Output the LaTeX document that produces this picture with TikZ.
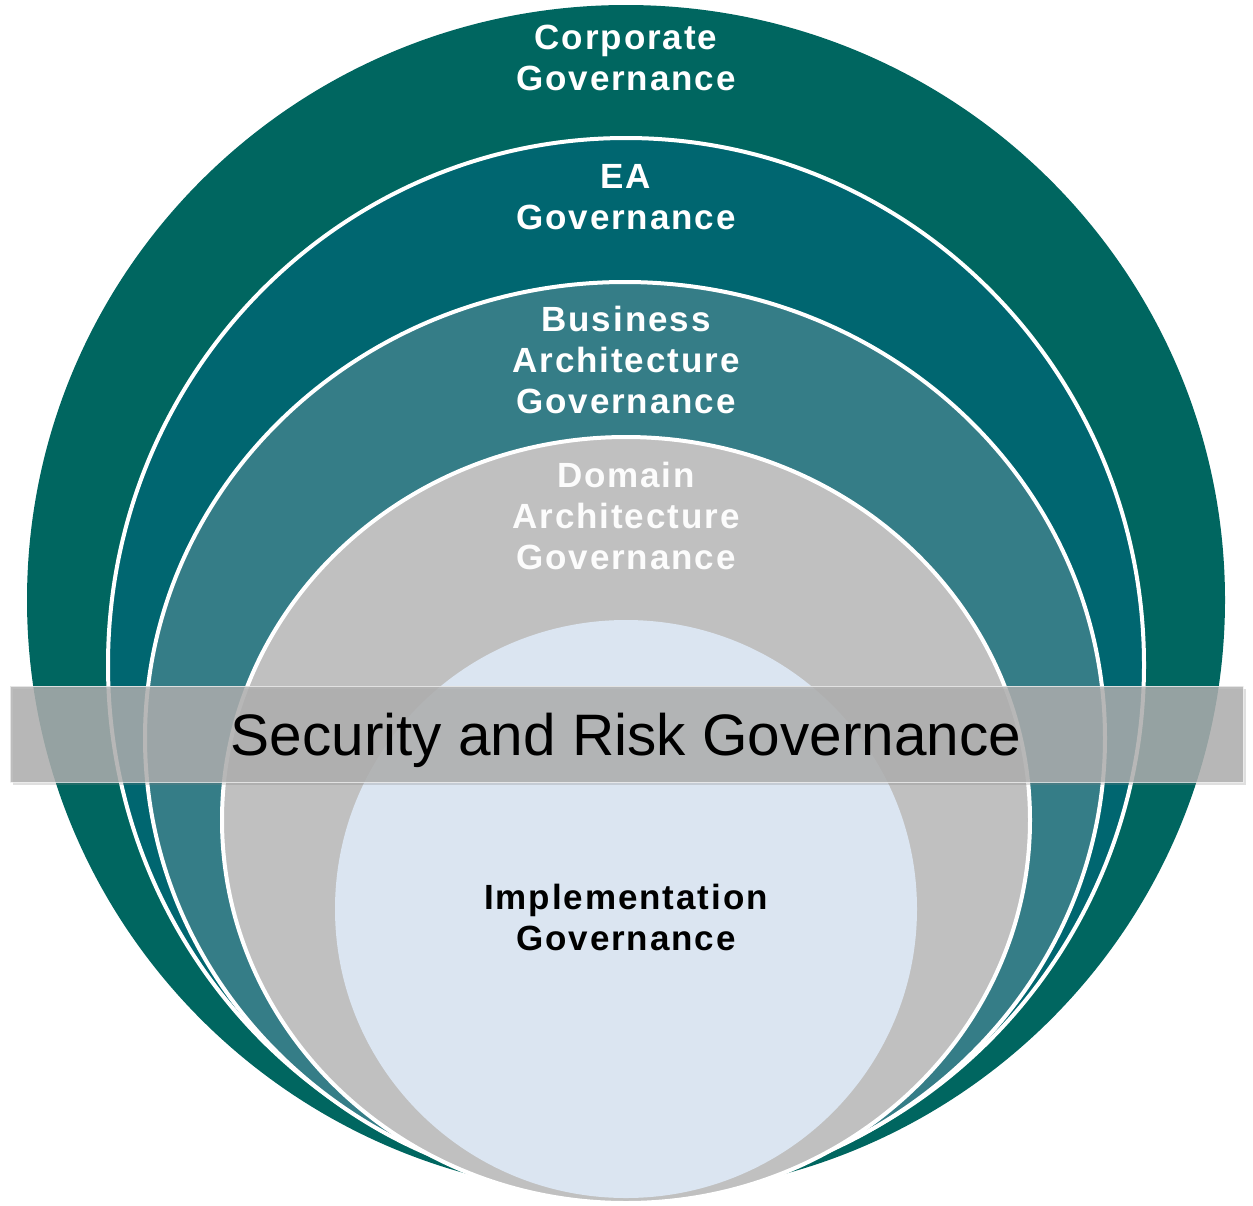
\documentclass[tikz,border=0pt]{standalone}
\usepackage{fontspec}
\setmainfont{Liberation Sans}
\usetikzlibrary{shapes.geometric,shadows}

\definecolor{corpteal}{RGB}{0,102,96}
\definecolor{eateal}{RGB}{0,102,112}
\definecolor{bizteal}{RGB}{53,125,135}
\definecolor{domgray}{RGB}{192,192,192}
\definecolor{implblue}{RGB}{219,229,241}
\definecolor{bandgray}{RGB}{175,175,175}

\begin{document}
\begin{tikzpicture}[x=1pt, y=-1pt,
  ring/.style={ellipse, draw=white, line width=4pt, inner sep=0pt},
  lvl/.style={font=\bfseries\fontsize{35}{41}\selectfont\addfontfeature{LetterSpace=5.5},
              text=white, align=center, inner sep=0pt},
  band/.style={rectangle, fill=bandgray, fill opacity=0.82, draw=white!80!bandgray,
               draw opacity=0.8, line width=1pt, minimum width=1233pt, minimum height=96pt,
               inner sep=0pt,
               drop shadow={opacity=0.25, shadow xshift=3pt, shadow yshift=-3pt}},
]
\useasboundingbox (0,0) rectangle (1253,1205);

% nested governance levels
\node[ring, fill=corpteal, draw=none, minimum width=1198pt, minimum height=1190pt] (corp) at (626,600) {};
\node[ring, fill=eateal,  minimum width=1036pt, minimum height=1054pt] (ea)   at (626,665) {};
\node[ring, fill=bizteal, minimum width=960pt,  minimum height=912pt]  (biz)  at (625,738) {};
\node[ring, fill=domgray, minimum width=808pt,  minimum height=766pt]  (dom)  at (626,820) {};
\node[ring, fill=implblue, draw=none, minimum width=582pt, minimum height=578pt] (impl) at (626,909) {};

\node[lvl] (corptxt) at (626,58)  {Corporate\\Governance};
\node[lvl] (eatxt)   at (626,197) {EA\\Governance};
\node[lvl] (biztxt)  at (626,360) {Business\\Architecture\\Governance};
\node[lvl, text=white!96!domgray] (domtxt) at (626,516) {Domain\\Architecture\\Governance};
\node[lvl, text=black] (impltxt) at (626,917) {Implementation\\Governance};

% cross-cutting band
\node[band] (sec) at (626.5,734) {};
\node[font=\fontsize{58.5}{64}\selectfont, inner sep=0pt] (sectxt) at (626,740)
  {Security and Risk Governance};
\end{tikzpicture}
\end{document}
